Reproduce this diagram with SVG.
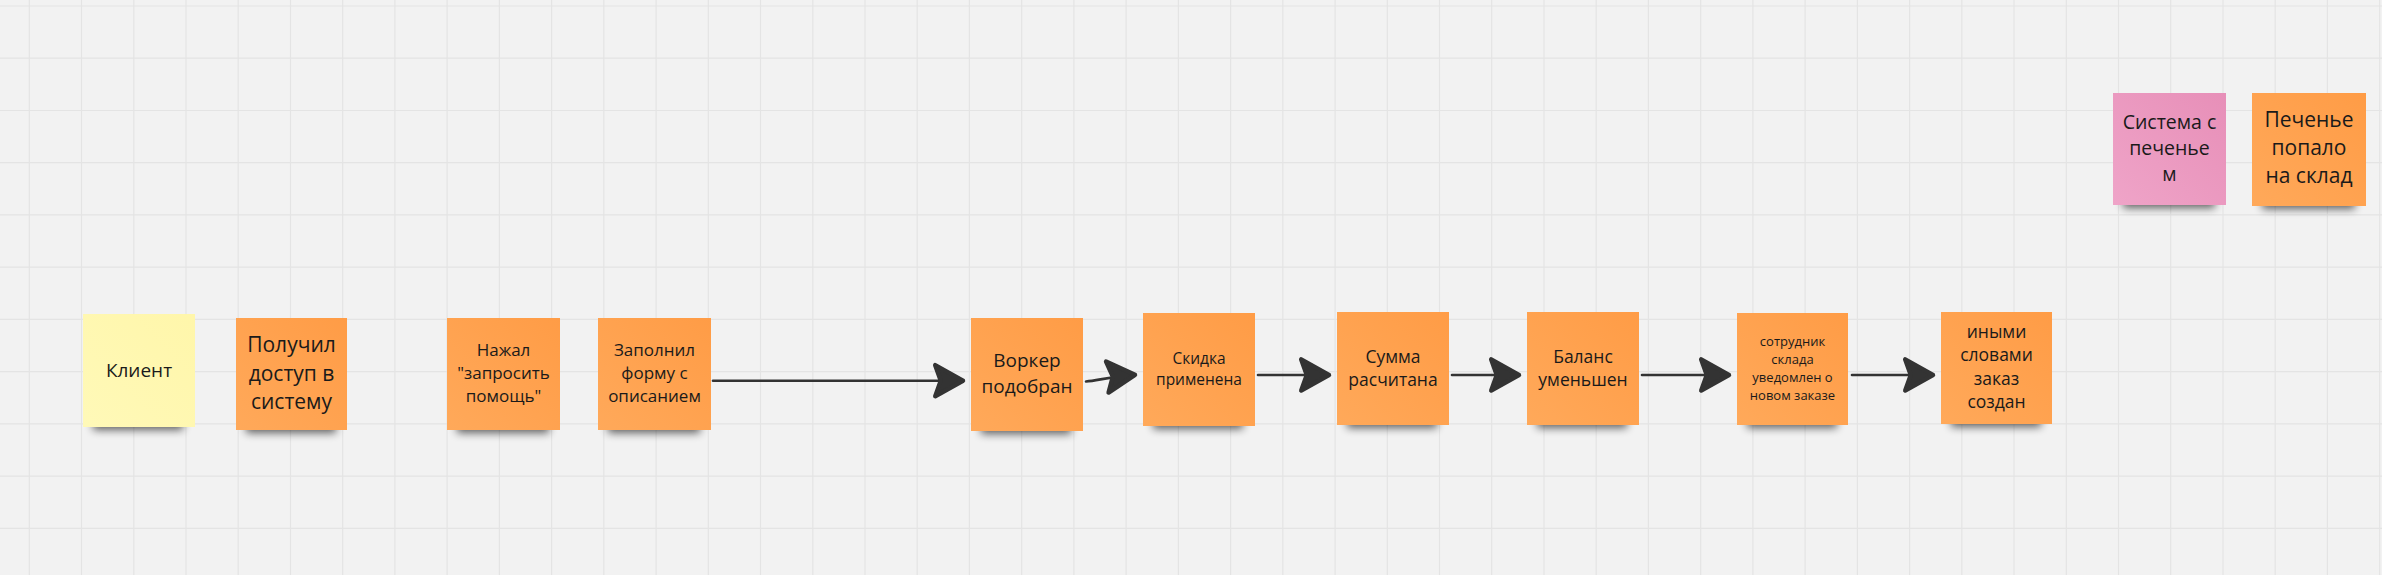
<svg xmlns="http://www.w3.org/2000/svg" width="2382" height="575" viewBox="0 0 2382 575">
<style>
  .grid { stroke: #e4e4e4; stroke-width: 1.2; fill: none; }
  .note-o { fill: url(#gOrange); }
  .note-y { fill: url(#gYellow); }
  .note-p { fill: url(#gPink); }
  .shadow { fill: #000; opacity: 0.6; filter: url(#blur); }
  .t { font-family: "Open Sans", "Noto Sans", "Liberation Sans", sans-serif; fill: #1a1a1a; text-anchor: middle; }
  .conn { stroke: #333333; stroke-width: 2.6; fill: none; stroke-linecap: round; }
</style>
<defs>
  <linearGradient id="gOrange" x1="1" y1="0" x2="0" y2="1">
    <stop offset="0" stop-color="#FF9C46"/>
    <stop offset="1" stop-color="#FFA95A"/>
  </linearGradient>
  <linearGradient id="gYellow" x1="1" y1="0" x2="0" y2="1">
    <stop offset="0" stop-color="#FFF6AA"/>
    <stop offset="1" stop-color="#FFF9B8"/>
  </linearGradient>
  <linearGradient id="gPink" x1="1" y1="0" x2="0" y2="1">
    <stop offset="0" stop-color="#E78FB8"/>
    <stop offset="1" stop-color="#EFA4C8"/>
  </linearGradient>
  <filter id="blur" x="-30%" y="-100%" width="160%" height="300%">
    <feGaussianBlur stdDeviation="4"/>
  </filter>
  <marker id="arr" markerUnits="userSpaceOnUse" markerWidth="40" markerHeight="40" viewBox="-30 -18 34 36" refX="0" refY="0" orient="auto">
    <path d="M0,0 L-25,-14 L-20,0 L-25,14 Z" fill="#333333" stroke="#333333" stroke-width="4" stroke-linejoin="round"/>
  </marker>
</defs>

<rect x="0" y="0" width="2382" height="575" fill="#f2f2f2"/>
<g id="grid" class="grid">
  <path d="M29.3,0V575 M81.5,0V575 M133.8,0V575 M186,0V575 M238.2,0V575 M290.5,0V575 M342.7,0V575 M394.9,0V575 M447.1,0V575 M499.4,0V575 M551.6,0V575 M603.8,0V575 M656.1,0V575 M708.3,0V575 M760.5,0V575 M812.8,0V575 M865,0V575 M917.2,0V575 M969.4,0V575 M1021.7,0V575 M1073.9,0V575 M1126.1,0V575 M1178.4,0V575 M1230.6,0V575 M1282.8,0V575 M1335.1,0V575 M1387.3,0V575 M1439.5,0V575 M1491.7,0V575 M1544,0V575 M1596.2,0V575 M1648.4,0V575 M1700.7,0V575 M1752.9,0V575 M1805.1,0V575 M1857.4,0V575 M1909.6,0V575 M1961.8,0V575 M2014,0V575 M2066.3,0V575 M2118.5,0V575 M2170.7,0V575 M2223,0V575 M2275.2,0V575 M2327.4,0V575 M2379.7,0V575"/>
  <path d="M0,6H2382 M0,58.2H2382 M0,110.5H2382 M0,162.7H2382 M0,214.9H2382 M0,267.2H2382 M0,319.4H2382 M0,371.6H2382 M0,423.8H2382 M0,476.1H2382 M0,528.3H2382"/>
</g>

<g id="connectors">
  <path class="conn" d="M713,380.7 H963" marker-end="url(#arr)"/>
  <path class="conn" d="M1086,381.5 C1098,380.5 1108,377 1135,374.8" marker-end="url(#arr)"/>
  <path class="conn" d="M1258,375 H1329" marker-end="url(#arr)"/>
  <path class="conn" d="M1452,375 H1519" marker-end="url(#arr)"/>
  <path class="conn" d="M1642,375 H1729" marker-end="url(#arr)"/>
  <path class="conn" d="M1852,375 H1933" marker-end="url(#arr)"/>
</g>

<g id="n-klient">
  <rect class="shadow" x="93" y="416" width="90" height="14"/>
  <rect class="note-y" x="83" y="314" width="112" height="113"/>
  <text class="t" font-size="19" x="139" y="376.5">Клиент</text>
</g>

<g id="n-poluchil">
  <rect class="shadow" x="246" y="419" width="90" height="14"/>
  <rect class="note-o" x="236" y="318" width="111" height="112"/>
  <text class="t" font-size="21"><tspan x="291.5" y="352">Получил</tspan><tspan x="291.5" y="380.5">доступ в</tspan><tspan x="291.5" y="409">систему</tspan></text>
</g>

<g id="n-nazhal">
  <rect class="shadow" x="457" y="419" width="92" height="14"/>
  <rect class="note-o" x="447" y="318" width="113" height="112"/>
  <text class="t" font-size="17"><tspan x="503.5" y="356">Нажал</tspan><tspan x="503.5" y="379">"запросить</tspan><tspan x="503.5" y="402">помощь"</tspan></text>
</g>

<g id="n-zapolnil">
  <rect class="shadow" x="608" y="419" width="92" height="14"/>
  <rect class="note-o" x="598" y="318" width="113" height="112"/>
  <text class="t" font-size="17"><tspan x="654.5" y="356">Заполнил</tspan><tspan x="654.5" y="379">форму с</tspan><tspan x="654.5" y="402">описанием</tspan></text>
</g>

<g id="n-vorker">
  <rect class="shadow" x="981" y="420" width="90" height="14"/>
  <rect class="note-o" x="971" y="318" width="112" height="113"/>
  <text class="t" font-size="19"><tspan x="1027" y="367">Воркер</tspan><tspan x="1027" y="393">подобран</tspan></text>
</g>

<g id="n-skidka">
  <rect class="shadow" x="1153" y="415" width="90" height="14"/>
  <rect class="note-o" x="1143" y="313" width="112" height="113"/>
  <text class="t" font-size="15.5"><tspan x="1199" y="363.5">Скидка</tspan><tspan x="1199" y="384.5">применена</tspan></text>
</g>

<g id="n-summa">
  <rect class="shadow" x="1347" y="414" width="90" height="14"/>
  <rect class="note-o" x="1337" y="312" width="112" height="113"/>
  <text class="t" font-size="17.5"><tspan x="1393" y="362.5">Сумма</tspan><tspan x="1393" y="386">расчитана</tspan></text>
</g>

<g id="n-balans">
  <rect class="shadow" x="1537" y="414" width="90" height="14"/>
  <rect class="note-o" x="1527" y="312" width="112" height="113"/>
  <text class="t" font-size="17.5"><tspan x="1583" y="362.5">Баланс</tspan><tspan x="1583" y="386">уменьшен</tspan></text>
</g>

<g id="n-sotrudnik">
  <rect class="shadow" x="1747" y="414" width="90" height="14"/>
  <rect class="note-o" x="1737" y="313" width="111" height="112"/>
  <text class="t" font-size="13"><tspan x="1792.5" y="346">сотрудник</tspan><tspan x="1792.5" y="364">склада</tspan><tspan x="1792.5" y="382">уведомлен о</tspan><tspan x="1792.5" y="399.5">новом заказе</tspan></text>
</g>

<g id="n-inymi">
  <rect class="shadow" x="1951" y="413" width="90" height="14"/>
  <rect class="note-o" x="1941" y="312" width="111" height="112"/>
  <text class="t" font-size="17.5"><tspan x="1996.5" y="337.5">иными</tspan><tspan x="1996.5" y="361">словами</tspan><tspan x="1996.5" y="384.5">заказ</tspan><tspan x="1996.5" y="408">создан</tspan></text>
</g>

<g id="n-sistema">
  <rect class="shadow" x="2123" y="194" width="92" height="14"/>
  <rect class="note-p" x="2113" y="93" width="113" height="112"/>
  <text class="t" font-size="19.5"><tspan x="2169.5" y="129">Система с</tspan><tspan x="2169.5" y="155">печенье</tspan><tspan x="2169.5" y="181">м</tspan></text>
</g>

<g id="n-pechenye">
  <rect class="shadow" x="2262" y="195" width="93" height="14"/>
  <rect class="note-o" x="2252" y="93" width="114" height="113"/>
  <text class="t" font-size="21"><tspan x="2309" y="127">Печенье</tspan><tspan x="2309" y="155">попало</tspan><tspan x="2309" y="183">на склад</tspan></text>
</g>
</svg>
